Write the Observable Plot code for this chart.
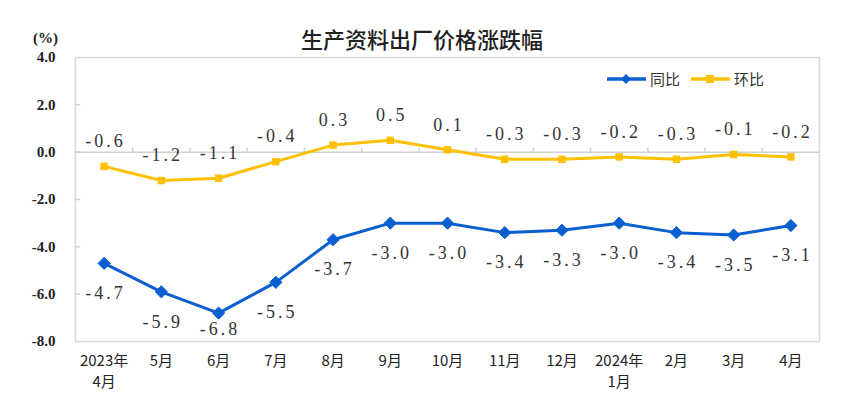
<!DOCTYPE html>
<html>
<head>
<meta charset="utf-8">
<script src="https://cdn.jsdelivr.net/npm/d3@7"></script>
<script src="https://cdn.jsdelivr.net/npm/@observablehq/plot@0.6"></script>
<style>
  body { margin: 0; background: #fff; }
  #wrap { position: relative; width: 844px; height: 417px; }
  #title { position: absolute; left: 0; width: 844px; top: 24px; text-align: center;
           font-family: "Noto Sans CJK SC", sans-serif; font-size: 22px; font-weight: 500; color: #222; line-height: 28px; }
  #unit { position: absolute; left: 33px; top: 30px; font-family: "Liberation Serif", serif; font-weight: bold; font-size: 15px; color: #222; }
  #legend { position: absolute; left: 606px; top: 68px; font-family: "Noto Sans CJK SC", sans-serif; font-size: 15px; color: #333; display: flex; align-items: center; }
  #legend .item { display: flex; align-items: center; margin-right: 10px; }
  #legend svg { margin-right: 2px; }
  #chart { position: absolute; left: 0; top: 0; }
  #chart svg g.datalabel text { letter-spacing: 3px; }
</style>
</head>
<body>
<div id="wrap">
  <div id="chart"></div>
  <div id="title">生产资料出厂价格涨跌幅</div>
  <div id="unit">(%)</div>
  <div id="legend"></div>
</div>
<script>
const months = ["2023年\n4月", "5月", "6月", "7月", "8月", "9月", "10月", "11月", "12月", "2024年\n1月", "2月", "3月", "4月"];
const yoy = [-4.7, -5.9, -6.8, -5.5, -3.7, -3.0, -3.0, -3.4, -3.3, -3.0, -3.4, -3.5, -3.1];
const mom = [-0.6, -1.2, -1.1, -0.4, 0.3, 0.5, 0.1, -0.3, -0.3, -0.2, -0.3, -0.1, -0.2];
const yTicks = [4, 2, 0, -2, -4, -6, -8];
const seriesNames = ["同比", "环比"];
const colors = ["#0a5fd0", "#ffc000"];

const idx = months.map((_, i) => i);
const yoyData = idx.map(i => ({i, v: yoy[i]}));
const momData = idx.map(i => ({i, v: mom[i]}));
const bounds = idx.slice(0, -1).map(i => i + 0.5);
const yoyMin = d3.min(yoy);

const tickShape = { draw(context, l) { context.moveTo(0, 0); context.lineTo(0, -l); } };

const labelFont = { fontFamily: "'Liberation Serif', 'DejaVu Serif', serif", fontSize: 18, fill: "#333", className: "datalabel", dx: 1.5 };

const chart = Plot.plot({
  width: 844,
  height: 417,
  marginLeft: 75,
  marginRight: 25,
  marginTop: 57,
  marginBottom: 76,
  style: { background: "transparent", overflow: "visible" },
  x: { type: "linear", domain: [-0.5, months.length - 0.5], label: null },
  y: { domain: [-8, 4], label: null },
  marks: [
    Plot.frame({ stroke: "#d9d9d9", strokeWidth: 1.5 }),
    Plot.ruleY([0], { stroke: "#d0d0d0", strokeWidth: 1.5 }),
    Plot.vector(bounds, { x: d => d, y: 0, length: 4, rotate: 0, anchor: "start", shape: tickShape, stroke: "#d0d0d0" }),
    Plot.axisY(yTicks, { anchor: "left", label: null, tickSize: 0, tickPadding: 20, tickFormat: d => d.toFixed(1),
      fontFamily: "'Liberation Serif', serif", fontWeight: "bold", fontSize: 15, fill: "#222" }),
    Plot.vector(yTicks.slice(1, -1), { x: -0.5, y: d => d, length: 4, rotate: 90, anchor: "start", shape: tickShape, stroke: "#d0d0d0" }),
    Plot.axisX(idx, { anchor: "bottom", label: null, tickSize: 0, tickPadding: 10, tickFormat: i => months[i],
      fontFamily: "'Noto Sans CJK SC', sans-serif", fontSize: 15, fill: "#222", lineHeight: 1.4 }),
    Plot.line(momData, { x: "i", y: "v", stroke: colors[1], strokeWidth: 3 }),
    Plot.dot(momData, { x: "i", y: "v", symbol: "square", r: 4.2, fill: colors[1] }),
    Plot.line(yoyData, { x: "i", y: "v", stroke: colors[0], strokeWidth: 3 }),
    Plot.dot(yoyData, { x: "i", y: "v", symbol: "diamond2", r: 5.5, fill: colors[0], stroke: colors[0], strokeWidth: 1 }),
    Plot.text(momData, { x: "i", y: "v", text: d => d.v.toFixed(1), dy: -25, ...labelFont }),
    Plot.text(yoyData.filter(d => d.v !== yoyMin), { x: "i", y: "v", text: d => d.v.toFixed(1), dy: 30, ...labelFont }),
    Plot.text(yoyData.filter(d => d.v === yoyMin), { x: "i", y: "v", text: d => d.v.toFixed(1), dy: 16, ...labelFont })
  ]
});
document.getElementById("chart").appendChild(chart);

// legend
const legend = document.getElementById("legend");
seriesNames.forEach((name, k) => {
  const item = document.createElement("div");
  item.className = "item";
  const marker = k === 0
    ? `<path d="M20,-5 L25,0 L20,5 L15,0 Z" fill="${colors[0]}"/>`
    : `<rect x="16" y="-4" width="8" height="8" fill="${colors[1]}"/>`;
  item.innerHTML = `<svg width="42" height="14" viewBox="0 -7 42 14"><line x1="1" x2="40" y1="0" y2="0" stroke="${colors[k]}" stroke-width="3.5"/>${marker}</svg><span>${name}</span>`;
  legend.appendChild(item);
});
</script>
</body>
</html>
